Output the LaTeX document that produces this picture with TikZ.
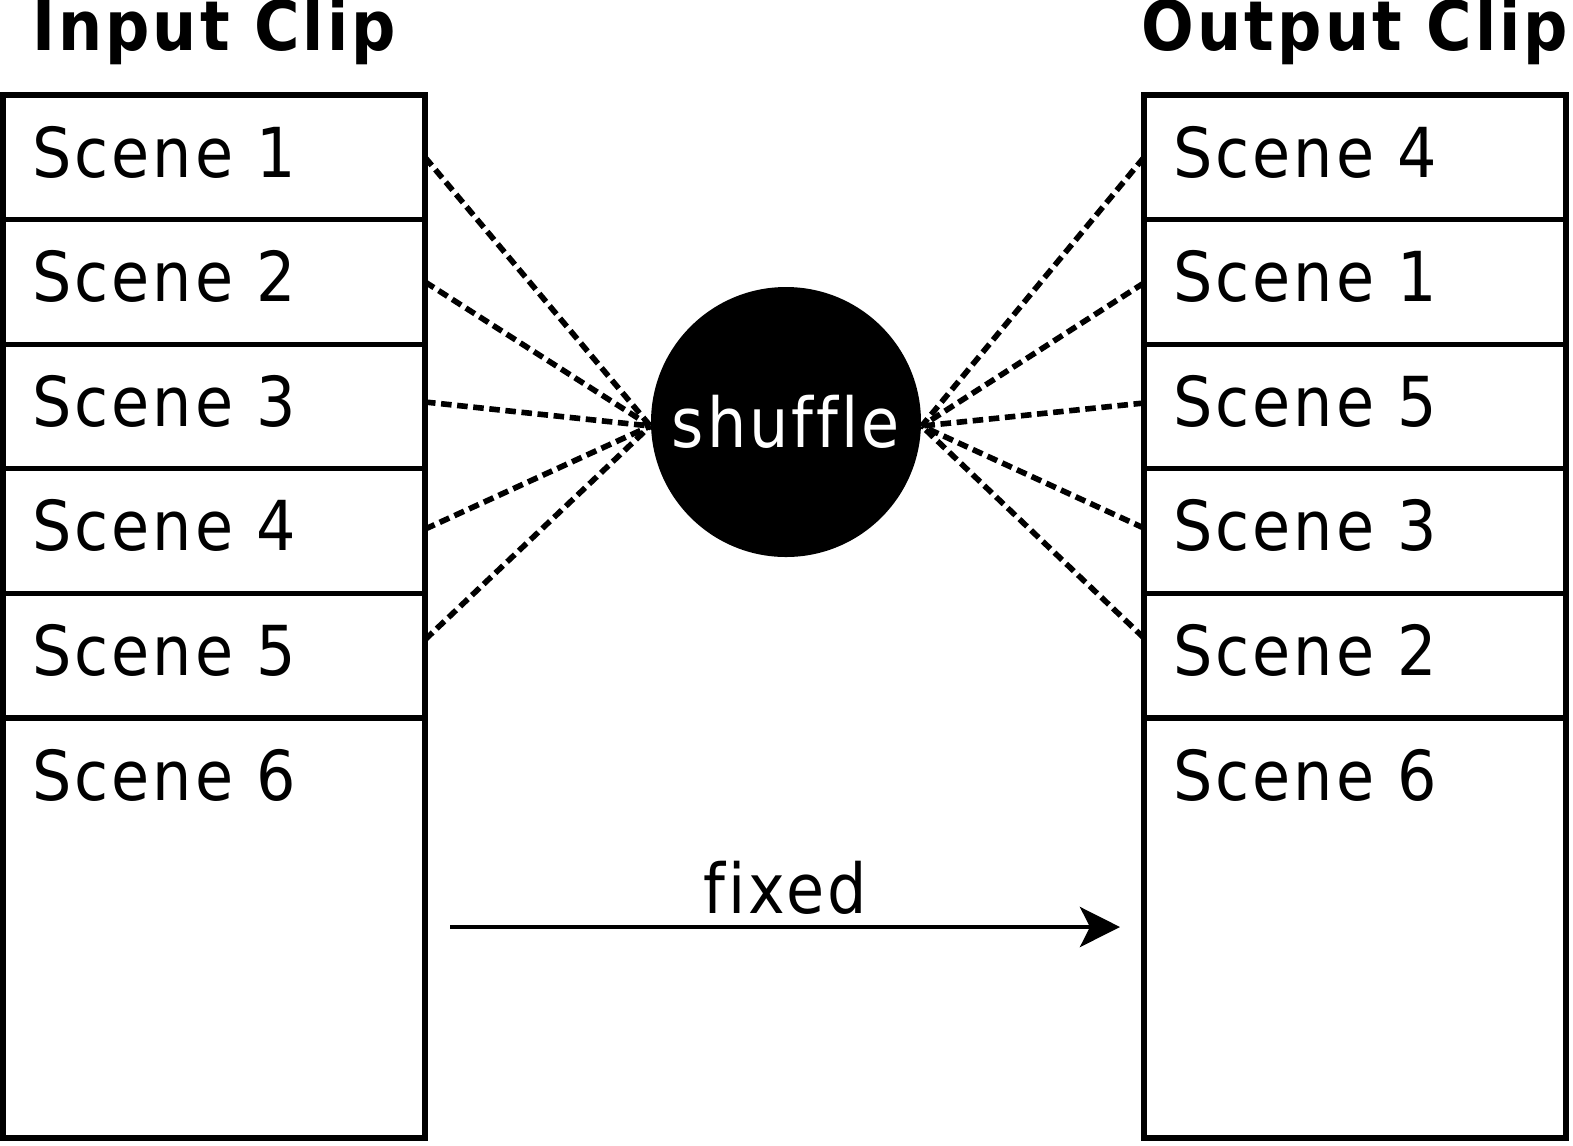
\documentclass[tikz,border=0pt]{standalone}
\usepackage{fontspec}
\setmainfont{DejaVu Sans Condensed}[LetterSpace=4.5, Ligatures={NoCommon}]
\usetikzlibrary{positioning,arrows.meta}
\begin{document}
\begin{tikzpicture}[font=\fontsize{19.6pt}{23pt}\selectfont,
  scn/.style={draw, line width=1.5pt, align=left, inner xsep=0.29cm, inner ysep=0pt, outer sep=0pt,
              text width=3.64cm, text height=0.82cm, text depth=0.426cm},
  hdr/.style={font=\fontsize{19.6pt}{23pt}\selectfont\bfseries, inner sep=0pt, anchor=base},
  lnk/.style={line width=1.6pt, dash pattern=on 3pt off 1.6pt},
]
  \useasboundingbox (0,0) rectangle (15.73,-11.45);

  \node[scn, anchor=north] (in1) at (2.14,-0.95) {Scene 1};
  \node[scn, below=0pt of in1] (in2) {Scene 2};
  \node[scn, below=0pt of in2] (in3) {Scene 3};
  \node[scn, below=0pt of in3] (in4) {Scene 4};
  \node[scn, below=0pt of in4] (in5) {Scene 5};
  \node[scn, below=0pt of in5, text depth=3.38cm] (in6) {Scene 6};
  \node[hdr] (tin) at ([yshift=0.45cm]in1.north) {Input Clip};

  \node[scn, anchor=north] (out1) at (13.55,-0.95) {Scene 4};
  \node[scn, below=0pt of out1] (out2) {Scene 1};
  \node[scn, below=0pt of out2] (out3) {Scene 5};
  \node[scn, below=0pt of out3] (out4) {Scene 3};
  \node[scn, below=0pt of out4] (out5) {Scene 2};
  \node[scn, below=0pt of out5, text depth=3.38cm] (out6) {Scene 6};
  \node[hdr] (tout) at ([yshift=0.45cm]out1.north) {Output Clip};

  \node[circle, fill=black, text=white, minimum size=2.7cm, inner sep=0pt] (shuf) at (7.86,-4.22) {shuffle};

  \draw[lnk] (in1.east) -- ([yshift=-0.04cm]shuf.west);
  \draw[lnk] (in2.east) -- ([yshift=-0.04cm]shuf.west);
  \draw[lnk] ([yshift=0.045cm]in3.east) -- ([yshift=-0.04cm]shuf.west);
  \draw[lnk] ([yshift=0.02cm]in4.east) -- ([yshift=-0.04cm]shuf.west);
  \draw[lnk] ([yshift=0.16cm]in5.east) -- ([yshift=-0.04cm]shuf.west);

  \draw[lnk] (out1.west) -- ([yshift=-0.04cm]shuf.east);
  \draw[lnk] ([yshift=-0.01cm]out2.west) -- ([yshift=-0.04cm]shuf.east);
  \draw[lnk] ([yshift=0.035cm]out3.west) -- ([yshift=-0.04cm]shuf.east);
  \draw[lnk] ([yshift=0.03cm]out4.west) -- ([yshift=-0.04cm]shuf.east);
  \draw[lnk] ([yshift=0.177cm]out5.west) -- ([yshift=-0.04cm]shuf.east);

  \coordinate (fx0) at (4.50,-9.27);
  \coordinate (fx1) at (11.20,-9.27);
  \draw[line width=1.3pt, -{Stealth[length=0.4cm, width=0.4cm, inset=0.1cm]}] (fx0) -- (fx1)
    node[midway, above, inner sep=0.1cm] {fixed};
\end{tikzpicture}
\end{document}
